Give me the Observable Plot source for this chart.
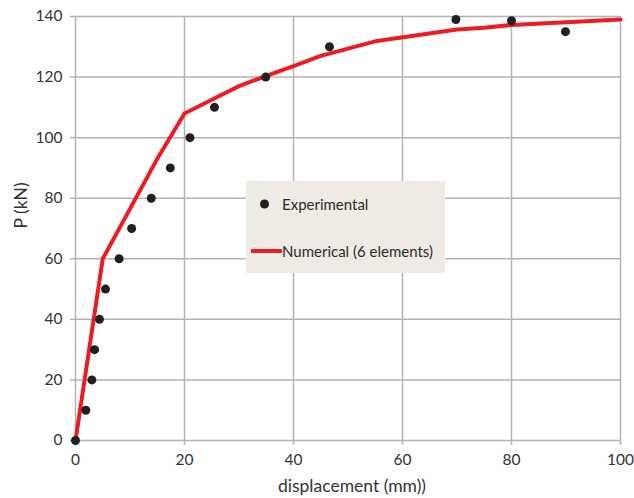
<!DOCTYPE html>
<html>
<head>
<meta charset="utf-8">
<script src="https://cdn.jsdelivr.net/npm/d3@7"></script>
<script src="https://cdn.jsdelivr.net/npm/@observablehq/plot@0.6"></script>
<style>
  html, body { margin: 0; padding: 0; background: #fff; }
  #wrap { position: relative; width: 634px; height: 498px; font-family: Lato, "Open Sans", sans-serif; }
  #legend {
    position: absolute; left: 246px; top: 181px; width: 199px; height: 92px;
    background: #eeebe5; color: #2b2b2b; font-size: 15px;
  }
  #legend .row { position: absolute; left: 0; display: flex; align-items: center; }
  #legend svg { display: block; }
</style>
</head>
<body>
<div id="wrap"></div>
<script>
// Experimental load–displacement readings
const expDisp = [0, 1.9, 3.0, 3.5, 4.4, 5.5, 8.0, 10.3, 13.9, 17.4, 21.0, 25.5, 34.9, 46.6, 69.8, 80.0, 89.9];
const expLoad = [0, 10, 20, 30, 40, 50, 60, 70, 80, 90, 100, 110, 120, 130, 139, 138.6, 135];

// Numerical model (6 elements)
const numDisp = [0, 5, 15, 20, 25, 30, 35, 40, 45, 55, 70, 75, 80, 90, 100];
const numLoad = [0, 60, 93, 108, 112.5, 117, 120.4, 123.6, 127, 131.8, 135.7, 136.3, 137.2, 138.1, 139];

const xTicks = [0, 20, 40, 60, 80, 100];
const yTicks = [0, 20, 40, 60, 80, 100, 120, 140];
const xTitle = "displacement (mm))";
const yTitle = "P (kN)";

const experimental = expDisp.map((d, i) => ({disp: d, load: expLoad[i]}));
const numerical = numDisp.map((d, i) => ({disp: d, load: numLoad[i]}));

const gridColor = "#b3b3b3";
const textColor = "#333333";

const chart = Plot.plot({
  width: 634,
  height: 498,
  marginLeft: 75,
  marginRight: 14,
  marginTop: 16,
  marginBottom: 58,
  style: {fontFamily: "Lato, 'Open Sans', sans-serif", fontSize: "15px", color: textColor, background: "#fff"},
  x: {domain: [0, 100]},
  y: {domain: [0, 140]},
  marks: [
    Plot.gridX(xTicks, {stroke: gridColor, strokeOpacity: 1, strokeWidth: 1.5}),
    Plot.gridY(yTicks, {stroke: gridColor, strokeOpacity: 1, strokeWidth: 1.5}),
    Plot.axisX(xTicks, {tickSize: 5, tickPadding: 8, stroke: gridColor, strokeWidth: 1.5, fill: textColor,
      label: null, fontSize: 15.5}),
    Plot.axisY(yTicks, {tickSize: 5, tickPadding: 8, stroke: gridColor, strokeWidth: 1.5, fill: textColor,
      label: null, fontSize: 15.5}),
    // axis titles
    Plot.text([xTitle], {frameAnchor: "bottom", dy: 51, dx: 4, fontSize: 17.5, fill: textColor}),
    Plot.text([yTitle], {frameAnchor: "left", dx: -54, rotate: -90, fontSize: 17.5, fill: textColor}),
    Plot.line(numerical, {x: "disp", y: "load", stroke: "#ec1c24", strokeWidth: 4, strokeLinejoin: "round"}),
    Plot.dot(experimental, {x: "disp", y: "load", r: 4.5, fill: "#231f20", stroke: "none"})
  ]
});

const wrap = document.getElementById("wrap");
wrap.appendChild(chart);

// Legend panel over the plot area
const legend = document.createElement("div");
legend.id = "legend";
legend.innerHTML = `
  <div class="row" style="top:12px; left:13px;">
    <svg width="12" height="22"><circle cx="5.5" cy="11" r="4.5" fill="#231f20"/></svg>
    <span style="margin-left:11px;">Experimental</span>
  </div>
  <div class="row" style="top:59px; left:5px;">
    <svg width="31" height="22"><line x1="1" y1="11" x2="30" y2="11" stroke="#ec1c24" stroke-width="4" stroke-linecap="round"/></svg>
    <span>Numerical (6 elements)</span>
  </div>`;
wrap.appendChild(legend);
</script>
</body>
</html>
